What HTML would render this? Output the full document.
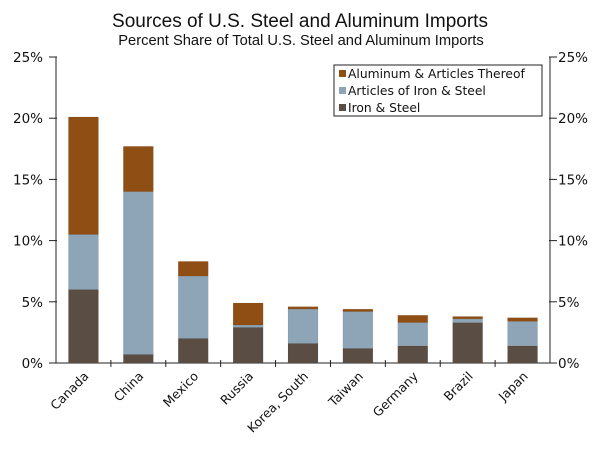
<!DOCTYPE html>
<html><head><meta charset="utf-8"><style>
body{margin:0;background:#fff;font-family:"Liberation Sans",sans-serif}
svg text{font-family:"DejaVu Sans",sans-serif;fill:#111}
svg text.lib{font-family:"Liberation Sans",sans-serif}
</style></head><body>
<svg width="600" height="449" id="c">
<text class="lib" x="300" y="27" text-anchor="middle" font-size="19">Sources of U.S. Steel and Aluminum Imports</text>
<text class="lib" x="301" y="45" text-anchor="middle" font-size="14.7">Percent Share of Total U.S. Steel and Aluminum Imports</text>
<g id="axes"></g><g id="bars"></g>
<g>
<rect x="334" y="65" width="208" height="51" fill="#fff" stroke="#222" stroke-width="1"/>
<rect x="339" y="70" width="7" height="7" fill="#8F4E14"/>
<text x="348" y="78" font-size="12.3">Aluminum &amp; Articles Thereof</text>
<rect x="339" y="87" width="7" height="7" fill="#8DA5B6"/>
<text x="348" y="95" font-size="12.3">Articles of Iron &amp; Steel</text>
<rect x="339" y="104" width="7" height="7" fill="#5A4E44"/>
<text x="348" y="112" font-size="12.3">Iron &amp; Steel</text>
</g>
</svg>
<script>
const categories=["Canada","China","Mexico","Russia","Korea, South","Taiwan","Germany","Brazil","Japan"];
const ironSteel=[6.0,0.7,2.0,2.9,1.6,1.2,1.4,3.3,1.4];
const articles=[4.5,13.3,5.1,0.2,2.8,3.0,1.9,0.3,2.0];
const aluminum=[9.6,3.7,1.2,1.8,0.2,0.2,0.6,0.2,0.3];
const yTicks=[0,5,10,15,20,25];
const NS="http://www.w3.org/2000/svg";
const L=56,R=550,T=57,B=363;
const y=v=>B-(v/25)*(B-T);
const band=(R-L)/categories.length;
const xc=i=>L+band*(i+0.5);
function mk(tag,attrs,parent){const e=document.createElementNS(NS,tag);for(const k in attrs)e.setAttribute(k,attrs[k]);parent.appendChild(e);return e;}
const ax=document.getElementById('axes'),bars=document.getElementById('bars');
let e;
e=mk('line',{x1:L,x2:L,y1:T,y2:B,stroke:'#222'},ax);


e=mk('line',{x1:R,x2:R,y1:T,y2:B,stroke:'#222'},ax);


e=mk('line',{x1:L-4,x2:R+4,y1:B,y2:B,stroke:'#222'},ax);


yTicks.forEach(t=>{
  mk('line',{x1:L-7,x2:L+1,y1:y(t),y2:y(t),stroke:'#222'},ax);
  mk('line',{x1:R-1,x2:R+7,y1:y(t),y2:y(t),stroke:'#222'},ax);
  e=mk('text',{x:L-13,y:y(t)+5,'text-anchor':'end','font-size':13.5},ax);e.textContent=t+'%';
  
  
  e=mk('text',{x:R+8,y:y(t)+5,'font-size':13.5},ax);e.textContent=t+'%';
  
  
});
for(let i=1;i<categories.length;i++){mk('line',{x1:L+band*i,x2:L+band*i,y1:B-3,y2:B+4,stroke:'#222'},ax);}
const bw=30;
categories.forEach((c,i)=>{
  const x=xc(i)-bw/2;
  const segs=[[ironSteel[i],'#5A4E44','iron'],[articles[i],'#8DA5B6','articles'],[aluminum[i],'#8F4E14','aluminum']];
  let base=0;
  segs.forEach(s=>{
    const r=mk('rect',{x:x,y:y(base+s[0]),width:bw,height:y(base)-y(base+s[0]),fill:s[1],stroke:'rgba(0,0,0,0.1)','stroke-width':0.5},bars);
    
    
    base+=s[0];
  });
  const t=mk('text',{x:xc(i)+6,y:B+14,'text-anchor':'end','font-size':12.5,transform:`rotate(-45 ${xc(i)+6} ${B+14})`},ax);
  t.textContent=c;
  
  
});
</script>
</body></html>
